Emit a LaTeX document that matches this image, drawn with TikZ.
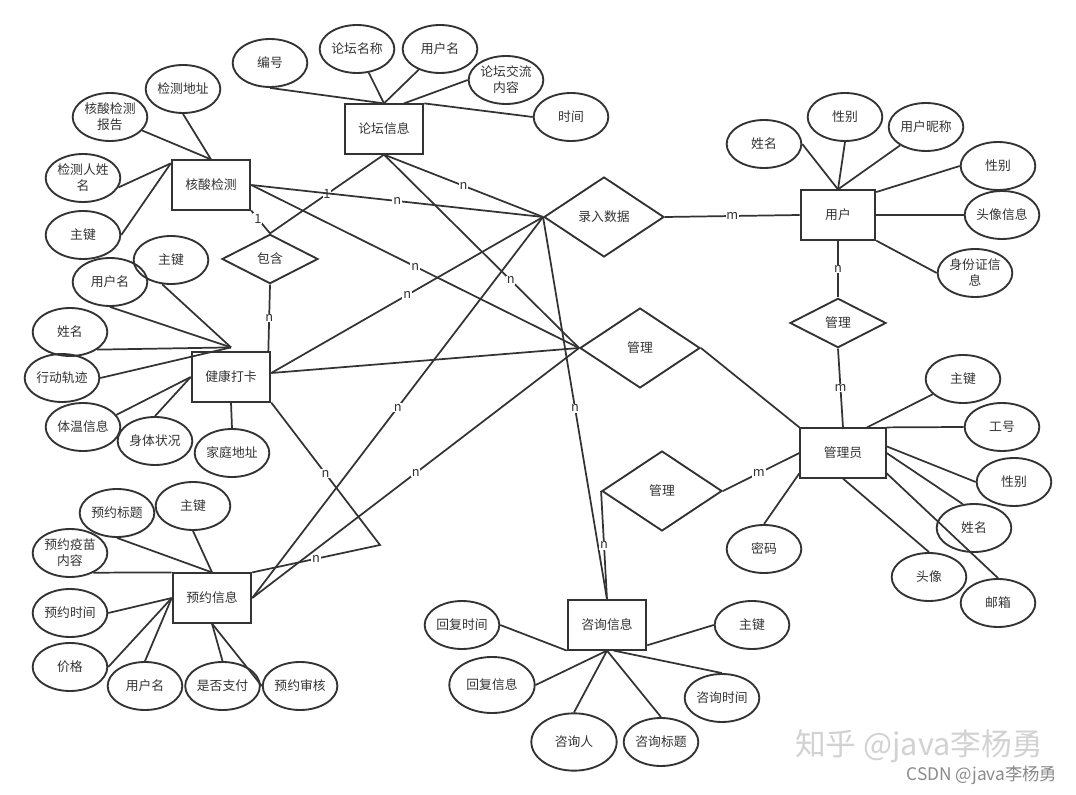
\documentclass[tikz,border=0pt]{standalone}
\usepackage{fontspec}
\setmainfont{Noto Sans CJK SC}
\usetikzlibrary{positioning, shapes.geometric}
\definecolor{clrborder}{HTML}{333333}
\definecolor{clrtext}{HTML}{333333}
\definecolor{clrmark}{HTML}{D2D2D2}
\definecolor{clrmarksmall}{HTML}{8A8A8A}

\begin{document}
\begin{tikzpicture}[
    x=0.75pt, y=-0.75pt,
    every node/.style={font=\fontsize{9.6}{12}\selectfont, text=clrtext},
    entity/.style={draw=clrborder, line width=1.4pt, minimum width=59pt,
                   minimum height=37pt, inner sep=0pt},
    attr/.style={ellipse, draw=clrborder, line width=1.4pt, minimum width=56pt,
                 minimum height=36pt, inner sep=0pt, align=center},
    rel/.style={diamond, draw=clrborder, line width=1.4pt, minimum width=90pt,
                minimum height=60pt, inner sep=0pt},
    smallrel/.style={rel, minimum width=72pt, minimum height=37pt},
    link/.style={draw=clrborder, line width=1.3pt},
    card/.style={fill=white, inner sep=0.6pt},
]
\path[use as bounding box, fill=white] (0,0) rectangle (1076,795);
\node[entity] (e_lt) at (384,129) {论坛信息};
\node[entity] (e_hs) at (211,185) {核酸检测};
\node[entity, minimum width=56pt] (e_yh) at (838,215) {用户};
\node[entity] (e_jk) at (231,377) {健康打卡};
\node[entity, minimum width=64pt] (e_gly) at (843,453) {管理员};
\node[entity] (e_yy) at (212,598) {预约信息};
\node[entity] (e_zx) at (607,625) {咨询信息};
\node[rel] (r_lr) at (604,217) {录入数据};
\node[smallrel] (r_bh) at (270,259) {包含};
\node[rel] (r_gl1) at (640,348) {管理};
\node[smallrel] (r_gl2) at (838,323) {管理};
\node[rel] (r_gl3) at (662,491) {管理};
\node[attr] (a_lt_1) at (270,63) {编号};
\node[attr] (a_lt_2) at (357,49) {论坛名称};
\node[attr] (a_lt_3) at (440,49) {用户名};
\node[attr] (a_lt_4) at (506,80) {论坛交流\\内容};
\node[attr] (a_lt_5) at (571,117) {时间};
\node[attr] (a_hs_1) at (183,89) {检测地址};
\node[attr] (a_hs_2) at (110,117) {核酸检测\\报告};
\node[attr] (a_hs_3) at (83,178) {检测人姓\\名};
\node[attr] (a_hs_4) at (83,235) {主键};
\node[attr] (a_jk_1) at (171,260) {主键};
\node[attr] (a_jk_2) at (110,282) {用户名};
\node[attr] (a_jk_3) at (70,332) {姓名};
\node[attr] (a_jk_4) at (62,378) {行动轨迹};
\node[attr] (a_jk_5) at (83,427) {体温信息};
\node[attr] (a_jk_6) at (155,441) {身体状况};
\node[attr] (a_jk_7) at (232,453) {家庭地址};
\node[attr] (a_yh_1) at (764,144) {姓名};
\node[attr] (a_yh_2) at (845,117) {性别};
\node[attr] (a_yh_3) at (926,127) {用户昵称};
\node[attr] (a_yh_4) at (998,166) {性别};
\node[attr] (a_yh_5) at (1002,215) {头像信息};
\node[attr] (a_yh_6) at (975,273) {身份证信\\息};
\node[attr] (a_gly_1) at (963,379) {主键};
\node[attr] (a_gly_2) at (1002,427) {工号};
\node[attr] (a_gly_3) at (1014,482) {性别};
\node[attr] (a_gly_4) at (974,528) {姓名};
\node[attr] (a_gly_5) at (929,577) {头像};
\node[attr] (a_gly_6) at (998,603) {邮箱};
\node[attr] (a_gly_7) at (764,549) {密码};
\node[attr] (a_yy_1) at (117,513) {预约标题};
\node[attr] (a_yy_2) at (193,506) {主键};
\node[attr] (a_yy_3) at (70,553) {预约疫苗\\内容};
\node[attr] (a_yy_4) at (70,613) {预约时间};
\node[attr] (a_yy_5) at (70,667) {价格};
\node[attr] (a_yy_6) at (145,686) {用户名};
\node[attr, right=0.75pt of a_yy_6] (a_yy_7) {是否支付};
\node[attr, right=0.75pt of a_yy_7] (a_yy_8) {预约审核};
\node[attr] (a_zx_1) at (462,625) {回复时间};
\node[attr] (a_zx_2) at (752,625) {主键};
\node[attr, minimum width=64pt, minimum height=42pt] (a_zx_3) at (492,685) {回复信息};
\node[attr] (a_zx_4) at (722,698) {咨询时间};
\node[attr, minimum width=64pt, minimum height=43pt] (a_zx_5) at (574,742) {咨询人};
\node[attr] (a_zx_6) at (661,742) {咨询标题};
\coordinate (c_jk) at ([yshift=3pt]e_jk.north);
\coordinate (c_bend) at (380,545);
\draw[link] (a_lt_1.south) -- (e_lt.north);
\draw[link] (a_lt_2) -- (e_lt.north);
\draw[link] (a_lt_3) -- (e_lt.north);
\draw[link] (a_lt_4.west) -- ([xshift=15pt]e_lt.north);
\draw[link] (a_lt_5.west) -- (e_lt.north east);
\draw[link] (a_hs_1.south) -- (e_hs.north);
\draw[link] (a_hs_2) -- (e_hs.north);
\draw[link] (a_hs_3.-15) -- ([yshift=-3pt]e_hs.north west);
\draw[link] (a_hs_4.east) -- ([yshift=-3pt]e_hs.north west);
\draw[link] (a_jk_1.-110) -- (c_jk);
\draw[link] (a_jk_2.south) -- (c_jk);
\draw[link] (a_jk_3.south east) -- (c_jk);
\draw[link] (a_jk_4.east) -- (c_jk);
\draw[link] (a_jk_5.20) -- (e_jk.west);
\draw[link] (a_jk_6.north) -- (e_jk.west);
\draw[link] (a_jk_7.north) -- (e_jk.south);
\draw[link] (a_yh_1.east) -- (e_yh.north);
\draw[link] (a_yh_2.south) -- (e_yh.north);
\draw[link] (a_yh_3) -- (e_yh.north);
\draw[link] (a_yh_4.west) -- ([yshift=-2pt]e_yh.north east);
\draw[link] (a_yh_5.west) -- (e_yh.east);
\draw[link] (a_yh_6.west) -- (e_yh.south east);
\draw[link] (a_gly_1) -- ([xshift=18pt]e_gly.north);
\draw[link] (a_gly_2.west) -- (e_gly.north east);
\draw[link] (a_gly_3.west) -- ([yshift=5pt]e_gly.east);
\draw[link] (a_gly_4.115) -- (e_gly.east);
\draw[link] (a_gly_5.north) -- (e_gly.south);
\draw[link] (a_gly_6.north) -- ([yshift=4pt]e_gly.south east);
\draw[link] (a_gly_7.north) -- ([yshift=4pt]e_gly.south west);
\draw[link] (a_yy_1.south) -- (e_yy.north);
\draw[link] (a_yy_2.south) -- (e_yy.north);
\draw[link] (a_yy_3.-40) -- (e_yy.north west);
\draw[link] (a_yy_4.east) -- (e_yy.west);
\draw[link] (a_yy_5.east) -- (e_yy.west);
\draw[link] (a_yy_6.north) -- (e_yy.west);
\draw[link] (a_yy_7.north) -- (e_yy.south);
\draw[link] (a_yy_8.west) -- (e_yy.south);
\draw[link] (a_zx_1.east) -- (e_zx.south west);
\draw[link] (a_zx_2.west) -- ([yshift=4pt]e_zx.south east);
\draw[link] (a_zx_3.east) -- (e_zx.south);
\draw[link] (a_zx_4.north) -- ([xshift=5pt]e_zx.south);
\draw[link] (a_zx_5.north) -- (e_zx.south);
\draw[link] (a_zx_6.north) -- (e_zx.south);
\draw[link] (e_lt.south) -- node[card] {1} (r_bh.north);
\draw[link] (e_hs.south east) -- node[card, pos=0.35] {1} (r_bh.north);
\draw[link] (r_bh.south) -- node[card] {n} ([xshift=28pt]e_jk.north);
\draw[link] (e_hs.east) -- node[card] {n} (r_lr.west);
\draw[link] (e_hs.east) -- node[card] {n} (r_gl1.west);
\draw[link] (e_lt.south) -- node[card] {n} (r_lr.west);
\draw[link] (e_lt.south) -- node[card, pos=0.65] {n} (r_gl1.west);
\draw[link] (r_lr.west) -- node[card] {n} ([yshift=3pt]e_jk.east);
\draw[link] (r_lr.west) -- node[card] {n} (e_yy.east);
\draw[link] (r_lr.west) -- node[card] {n} (e_zx.north);
\draw[link] (r_gl1.west) -- ([yshift=3pt]e_jk.east);
\draw[link] (r_gl1.west) -- node[card] {n} (e_yy.east);
\draw[link] (e_jk.south east) -- node[card] {n} (c_bend) -- node[card] {n} (e_yy.north east);
\draw[link] (r_lr.east) -- node[card] {m} (e_yh.west);
\draw[link] (e_yh.south) -- node[card] {n} (r_gl2.north);
\draw[link] (r_gl2.south) -- node[card] {m} (e_gly.north);
\draw[link] (r_gl1.east) -- (e_gly.north west);
\draw[link] (r_gl3.east) -- node[card, pos=0.47] {m} (e_gly.west);
\draw[link] (r_gl3.west) -- node[card] {n} (e_zx.north);
\node[font=\fontsize{23}{23}\selectfont, text=clrmark] (wm_1) at (919,746) {知乎 @java李杨勇};
\node[font=\fontsize{13}{14}\selectfont, text=clrmarksmall] (wm_2) at (982,775) {CSDN @java李杨勇};
\end{tikzpicture}
\end{document}
